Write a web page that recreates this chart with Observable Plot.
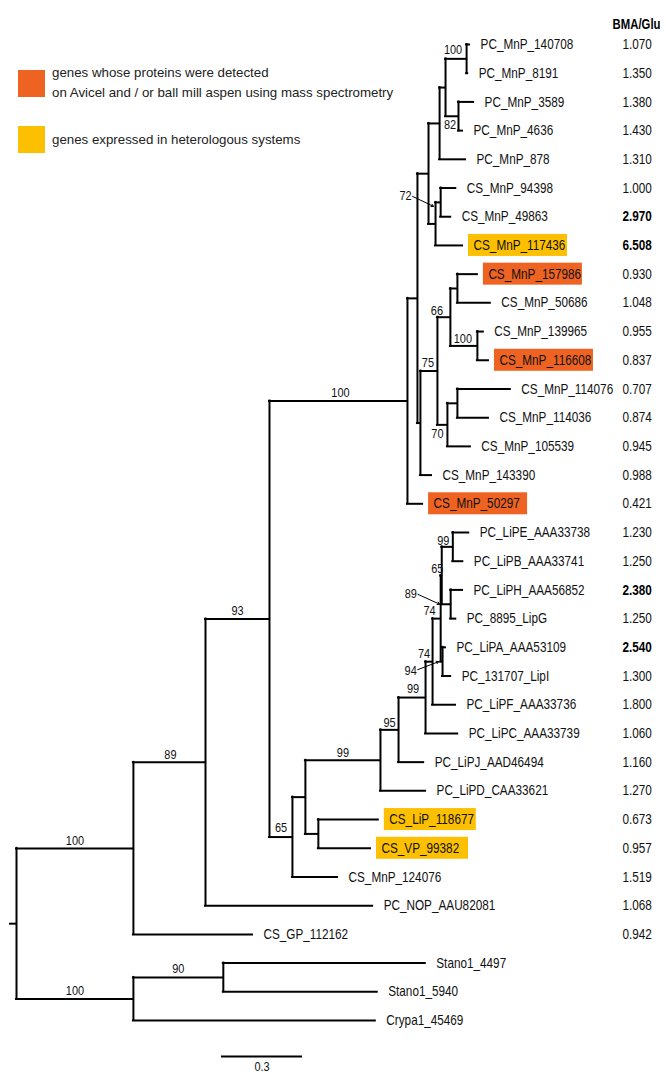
<!DOCTYPE html>
<html><head><meta charset="utf-8">
<script src="https://cdn.jsdelivr.net/npm/d3@7"></script>
<script src="https://cdn.jsdelivr.net/npm/@observablehq/plot@0.6"></script>
<style>
body{margin:0;background:#fff;}
#wrap{position:relative;width:666px;height:1074px;overflow:hidden;}
.leg{position:absolute;font-family:"Liberation Sans",Arial,sans-serif;font-size:13.3px;color:#222;line-height:20px;white-space:nowrap;}
.sw{position:absolute;width:27px;height:27px;}
</style></head><body>
<div id="wrap"></div>
<script>
// ---------------- DATA ----------------
const leafNames = ["PC_MnP_140708","PC_MnP_8191","PC_MnP_3589","PC_MnP_4636","PC_MnP_878","CS_MnP_94398","CS_MnP_49863","CS_MnP_117436","CS_MnP_157986","CS_MnP_50686","CS_MnP_139965","CS_MnP_116608","CS_MnP_114076","CS_MnP_114036","CS_MnP_105539","CS_MnP_143390","CS_MnP_50297","PC_LiPE_AAA33738","PC_LiPB_AAA33741","PC_LiPH_AAA56852","PC_8895_LipG","PC_LiPA_AAA53109","PC_131707_LipI","PC_LiPF_AAA33736","PC_LiPC_AAA33739","PC_LiPJ_AAD46494","PC_LiPD_CAA33621","CS_LiP_118677","CS_VP_99382","CS_MnP_124076","PC_NOP_AAU82081","CS_GP_112162","Stano1_4497","Stano1_5940","Crypa1_45469"];
const leafParents = ["n1","n1","n2","n2","n4","n5","n5","n6","nG","nG","nH","nH","nI","nI","nF","nC","nMn","nEB","nEB","nHG","nHG","nAI","nAI","nLF","nLC","nJ","nLD","nLV","nLV","n65","n89","nA","n90","n90","nB"];
const leafLengths = [0.011,0.004,0.056,0.015,0.096,0.056,0.037,0.100,0.074,0.122,0.022,0.041,0.196,0.115,0.085,0.041,0.056,0.059,0.037,0.044,0.019,0.011,0.030,0.085,0.119,0.093,0.167,0.222,0.193,0.167,0.619,0.441,0.748,0.570,0.896];
const bmaGlu = ["1.070","1.350","1.380","1.430","1.310","1.000","2.970","6.508","0.930","1.048","0.955","0.837","0.707","0.874","0.945","0.988","0.421","1.230","1.250","2.380","1.250","2.540","1.300","1.800","1.060","1.160","1.270","0.673","0.957","1.519","1.068","0.942","","",""];
const boldValueLeaves = ["CS_MnP_49863","CS_MnP_117436","PC_LiPH_AAA56852","PC_LiPA_AAA53109"];
const msDetected = ["CS_MnP_157986","CS_MnP_116608","CS_MnP_50297"];
const heterologous = ["CS_MnP_117436","CS_LiP_118677","CS_VP_99382"];

const nodeIds     = ["root","nA","nB","n90","n89","n93","nMn","nY","n7","n4","n3","n1","n2","n6","n5","nC","nD","nE","nG","nH","nF","nI","n65","nS","nLD","nJ","nLC","nLF","nLX","nEBHG","nEB","nHG","nAI","nLV"];
const nodeParents = [null,"root","root","nB","nA","n89","n93","nMn","nY","n7","n4","n3","n3","n7","n6","nY","nC","nD","nE","nE","nD","nF","n93","n65","nS","nLD","nJ","nLC","nLF","nLX","nEBHG","nEBHG","nLX","nS"];
const nodeLengths = [0,0.433,0.433,0.333,0.267,0.237,0.511,0.037,0.041,0.041,0.022,0.078,0.048,0.026,0.019,0.011,0.063,0.048,0.026,0.100,0.037,0.037,0.085,0.048,0.278,0.067,0.100,0.026,0.030,0.004,0.041,0.033,0.007,0.048];

const supportNodes  = ["n1","n2","n5","nE","nH","nD","nF","nMn","nEB","nEBHG","nHG","nLX","nAI","nLF","nLC","nJ","nLD","n65","n93","n89","nA","nB","n90"];
const supportValues = [100,82,72,66,100,75,70,100,99,65,89,74,94,74,99,95,99,65,93,89,100,100,90];

const scaleBarLength = 0.3;
const valueHeader = "BMA/Glu";

// ---------------- LAYOUT (pixels) ----------------
const W = 666, H = 1074;
const PX = 270;          // px per unit of branch length
const ROOT_PX = 16;
const ROW_TOP = 44, ROW_BOTTOM = 1020, NROW = leafNames.length - 1;
const ROW = (ROW_BOTTOM - ROW_TOP) / NROW;
const supportNudge = {n1:[-3,-9],n2:[-2,8],nE:[-7,-7],nH:[-1,-7],nD:[-1,-8],nF:[-5,9],nMn:[2,-8],nEB:[-4,-6],nEBHG:[-4,-7],nLX:[-7,-8],nLF:[-5,-8],nLC:[1,-9],nJ:[0,-7],nLD:[0,-8],n65:[0,-9],n93:[0,-8],n89:[1,-8],nA:[0,-8],nB:[0,-8],n90:[0,-9]};
const arrowLabels = {n5:[-30,-7], nHG:[-31,-11], nAI:[-30,9]};
const FONT = "'Liberation Sans',Arial,sans-serif";
const CONDENSE = 0.81;   // horizontal compression of the narrow type
const ORANGE = "#EE6322", YELLOW = "#FCC000";

// ---------------- TREE GEOMETRY ----------------
const depth = new Map(), parentOf = new Map();
nodeIds.forEach((id, i) => {
  const p = nodeParents[i];
  parentOf.set(id, p);
  depth.set(id, p == null ? 0 : depth.get(p) + nodeLengths[i]);
});
const leaves = leafNames.map((name, i) => ({
  name, i, parent: leafParents[i],
  x0: depth.get(leafParents[i]),
  x: depth.get(leafParents[i]) + leafLengths[i],
  value: bmaGlu[i],
  bold: boldValueLeaves.includes(name),
  hl: msDetected.includes(name) ? "ms" : heterologous.includes(name) ? "het" : null
}));
const childYs = new Map(nodeIds.map(id => [id, []]));
leaves.forEach(l => childYs.get(l.parent).push(l.i));
const nodeY = new Map();
for (let k = nodeIds.length - 1; k >= 0; k--) {
  const id = nodeIds[k], ys = childYs.get(id);
  const y = (d3.min(ys) + d3.max(ys)) / 2;
  nodeY.set(id, y);
  const p = nodeParents[k];
  if (p != null) childYs.get(p).push(y);
}
const verticals = nodeIds.map(id => ({x: depth.get(id), y1: d3.min(childYs.get(id)), y2: d3.max(childYs.get(id))}));
const horizontals = [
  ...nodeIds.filter(id => parentOf.get(id) != null).map(id => ({x1: depth.get(parentOf.get(id)), x2: depth.get(id), y: nodeY.get(id)})),
  ...leaves.map(l => ({x1: l.x0, x2: l.x, y: l.i})),
  {x1: -6 / PX, x2: 0, y: nodeY.get("root")}
];

const supports = supportNodes.map((id, i) => {
  const px = depth.get(parentOf.get(id)), nx = depth.get(id), ny = nodeY.get(id);
  if (arrowLabels[id]) {
    const [dx, dy] = arrowLabels[id];
    return {text: String(supportValues[i]), x: px + dx / PX, y: ny + dy / ROW,
            ax1: px + (dx + 7) / PX, ay1: ny + (dy - Math.sign(dy)) / ROW,
            ax2: px - 2 / PX, ay2: ny + (id === "n5" ? 4 : 0) / ROW, arrow: true};
  }
  const [dx, dy] = supportNudge[id] || [0, -8];
  return {text: String(supportValues[i]), x: (px + nx) / 2 + dx / PX, y: ny + dy / ROW, arrow: false};
});

const boxes = leaves.filter(l => l.hl).map(l => {
  const w = l.name.startsWith("CS_MnP") ? 99 : 92;
  return {x1: l.x + 6 / PX, x2: l.x + (6 + w) / PX, y1: l.i - 11 / ROW, y2: l.i + 11 / ROW, fill: l.hl === "ms" ? ORANGE : YELLOW};
});

const SB_X0 = (221 - ROOT_PX) / PX, SB_Y = (1056 - ROW_TOP) / ROW;

const plot = Plot.plot({
  width: W, height: H,
  marginTop: 0, marginRight: 0, marginBottom: 0, marginLeft: 0,
  x: {type: "linear", domain: [-ROOT_PX / PX, (W - ROOT_PX) / PX], range: [0, W], axis: null},
  y: {type: "linear", domain: [0, NROW], range: [ROW_TOP, ROW_BOTTOM], axis: null},
  style: {background: "#fff", overflow: "visible"},
  marks: [
    Plot.rect(boxes, {x1: "x1", x2: "x2", y1: "y1", y2: "y2", fill: d => d.fill}),
    Plot.ruleY(horizontals, {y: "y", x1: "x1", x2: "x2", stroke: "#000", strokeWidth: 2, strokeLinecap: "square"}),
    Plot.ruleX(verticals, {x: "x", y1: "y1", y2: "y2", stroke: "#000", strokeWidth: 2, strokeLinecap: "square"}),
    Plot.text(leaves, {x: "x", y: "i", text: "name", textAnchor: "start", dx: 11, fontSize: 14.5, fontFamily: FONT, fill: "#111"}),
    Plot.text(leaves.filter(l => !l.bold), {y: "i", text: "value", frameAnchor: "right", textAnchor: "start", dx: -44, fontSize: 14.5, fontFamily: FONT, fill: "#111"}),
    Plot.text(leaves.filter(l => l.bold), {y: "i", text: "value", frameAnchor: "right", textAnchor: "start", dx: -44, fontSize: 14.5, fontWeight: "bold", fontFamily: FONT, fill: "#000"}),
    Plot.text([valueHeader], {frameAnchor: "top-right", textAnchor: "end", dx: -6, dy: 19, fontSize: 14, fontWeight: "bold", fontFamily: FONT, fill: "#000"}),
    Plot.text(supports, {x: "x", y: "y", text: "text", fontSize: 13.5, fontFamily: FONT, fill: "#111"}),
    Plot.arrow(supports.filter(d => d.arrow), {x1: "ax1", y1: "ay1", x2: "ax2", y2: "ay2", stroke: "#000", strokeWidth: 1, headLength: 4}),
    Plot.ruleY([SB_Y], {x1: SB_X0, x2: SB_X0 + scaleBarLength, stroke: "#000", strokeWidth: 2}),
    Plot.text([String(scaleBarLength)], {x: SB_X0 + scaleBarLength / 2, y: SB_Y + 10 / ROW, fontSize: 13.5, fontFamily: FONT, fill: "#111"})
  ]
});
const wrap = document.getElementById("wrap");
wrap.appendChild(plot);

// condense all chart text horizontally (narrow typeface look)
plot.querySelectorAll("text").forEach(t => {
  const len = t.getComputedTextLength();
  if (len > 0) {
    t.setAttribute("textLength", (len * CONDENSE).toFixed(2));
    t.setAttribute("lengthAdjust", "spacingAndGlyphs");
  }
});

// legend (HTML overlay)
const legendItems = [
  {color: ORANGE, lines: ["genes whose proteins were detected", "on Avicel and / or ball mill aspen using mass spectrometry"], top: 70, textTop: 63},
  {color: YELLOW, lines: ["genes expressed in heterologous systems"], top: 126, textTop: 130}
];
legendItems.forEach(it => {
  const sw = document.createElement("div");
  sw.className = "sw"; sw.style.left = "18px"; sw.style.top = it.top + "px"; sw.style.background = it.color;
  wrap.appendChild(sw);
  const tx = document.createElement("div");
  tx.className = "leg"; tx.style.left = "52px"; tx.style.top = it.textTop + "px";
  tx.innerHTML = it.lines.join("<br>");
  wrap.appendChild(tx);
});
</script>
</body></html>
